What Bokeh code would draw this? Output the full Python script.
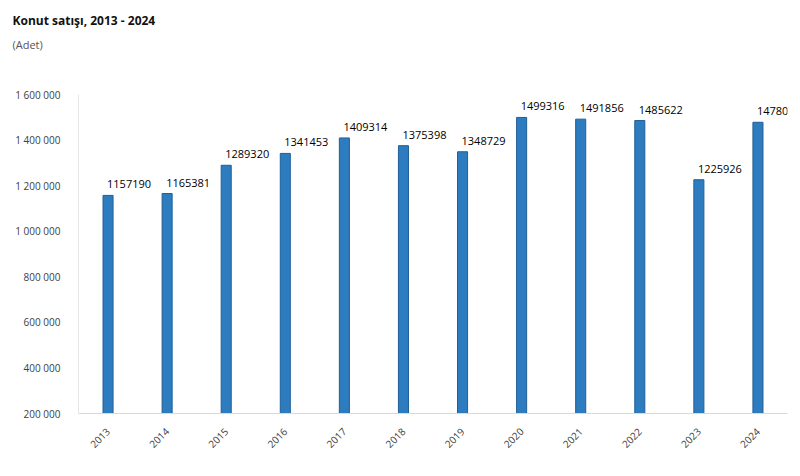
import math
from bokeh.plotting import figure
from bokeh.models import ColumnDataSource, FixedTicker, Title
from bokeh.core.properties import value
from bokeh.embed import file_html
from bokeh.resources import INLINE

years = ["2013", "2014", "2015", "2016", "2017", "2018", "2019", "2020", "2021", "2022", "2023", "2024"]
sales = [1157190, 1165381, 1289320, 1341453, 1409314, 1375398, 1348729, 1499316, 1491856, 1485622, 1225926, 1478025]
labels = ["1157190", "1165381", "1289320", "1341453", "1409314", "1375398", "1348729", "1499316", "1491856", "1485622", "1225926", "14780"]
y_ticks = [200000, 400000, 600000, 800000, 1000000, 1200000, 1400000, 1600000]
y_tick_labels = ["200 000", "400 000", "600 000", "800 000", "1 000 000", "1 200 000", "1 400 000", "1 600 000"]

src = ColumnDataSource(dict(x=years, y=sales, lab=labels))

p = figure(width=790, height=466, x_range=years, y_range=(200000, 1600000),
           output_backend="svg", toolbar_location=None,
           min_border_left=78, min_border_right=3, min_border_top=94, min_border_bottom=53)
p.outline_line_color = None
p.xgrid.grid_line_color = None
p.ygrid.grid_line_color = None
p.background_fill_color = "white"

p.title.text = "Konut satışı, 2013 - 2024"
p.title.align = "left"
p.title.offset = -66
p.title.standoff = 7
p.title.text_font = "Open Sans"
p.title.text_font_style = "bold"
p.title.text_font_size = "12px"
p.title.text_color = "#111111"

# empty spacer panel between the subtitle and the plot area (nearest to the plot)
p.add_layout(Title(text=" ", align="left", standoff=38, text_font_size="1px",
                   text_color="white"), "above")
p.add_layout(Title(text="(Adet)", align="left", offset=-66, standoff=4,
                   text_font="Open Sans", text_font_style="normal", text_font_size="11px",
                   text_color="#555555"), "above")

p.vbar(x="x", top="y", bottom=0, width=0.17, source=src,
       fill_color="#2E7CC0", line_color="#1F5E96", line_width=1)

p.text(x="x", y="y", text="lab", source=src, x_offset=-1, y_offset=-7,
       text_align="left", text_baseline="bottom", text_font=value("Open Sans"),
       text_font_size="11px", text_color="#000000")

p.yaxis.ticker = FixedTicker(ticks=y_ticks)
p.yaxis.major_label_overrides = {t: l for t, l in zip(y_ticks, y_tick_labels)}
p.yaxis.major_tick_line_color = None
p.yaxis.minor_tick_line_color = None
p.yaxis.axis_line_color = "#e6e6e6"
p.yaxis.major_label_text_font = "Open Sans"
p.yaxis.major_label_text_font_size = "10px"
p.yaxis.major_label_text_color = "#404040"
p.yaxis.major_label_standoff = 12

p.xaxis.major_label_orientation = math.pi / 4
p.xaxis.major_tick_line_color = None
p.xaxis.axis_line_color = "#d9d9d9"
p.xaxis.major_label_text_font = "Open Sans"
p.xaxis.major_label_text_font_size = "10px"
p.xaxis.major_label_text_color = "#404040"
p.xaxis.major_label_standoff = 10

open("out.html", "w").write(file_html(p, INLINE))
